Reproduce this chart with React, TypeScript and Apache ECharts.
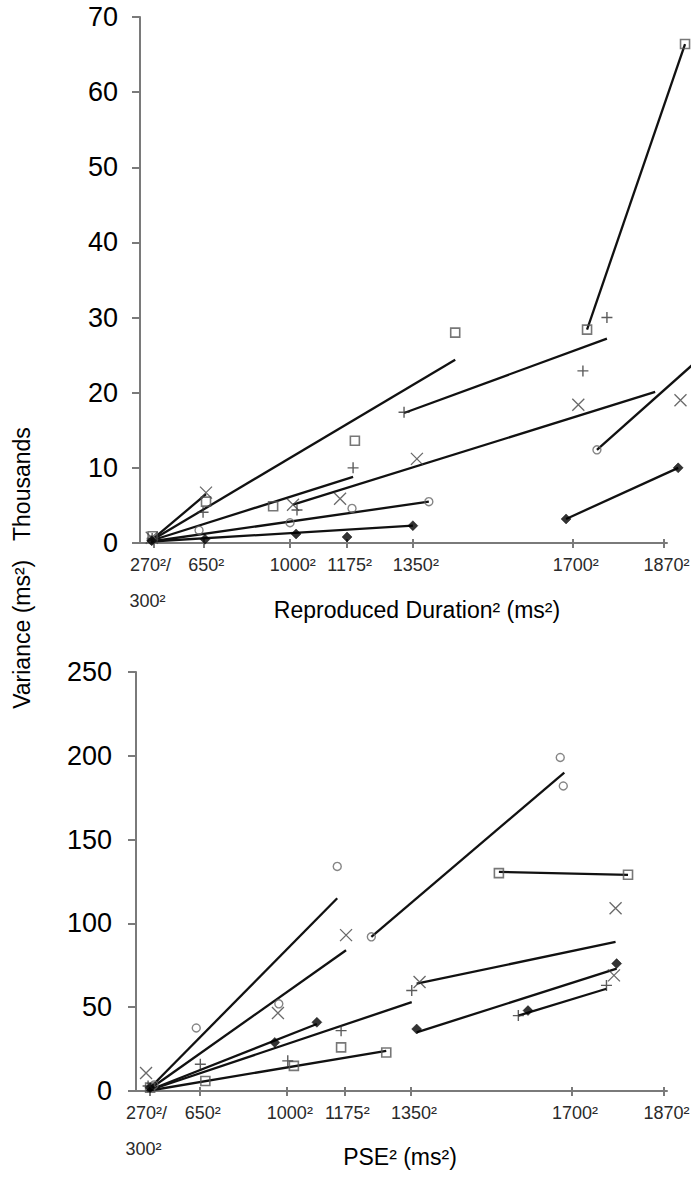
import React, { useEffect, useRef } from 'react';
import * as echarts from 'echarts';

// x tick positions: objective durations (ms), plotted on a duration² axis
const tickDurations = [300, 650, 1000, 1175, 1350, 1700, 1870];
const tickLabels = ['270²/\n300²', '650²', '1000²', '1175²', '1350²', '1700²', '1870²'];

// ---- top panel: [reproduced duration (ms), variance (thousand ms²)]
const topSquare = [[290, 0.9], [664, 5.5], [943, 4.9], [1198, 13.6], [1451, 28.0], [1728, 28.4], [1908, 66.4]];
const topPlus = [[285, 0.6], [649, 4.1], [1024, 4.4], [1193, 10.0], [1328, 17.4], [1720, 22.9], [1766, 30.0]];
const topCross = [[280, 0.7], [664, 6.7], [1011, 5.1], [1156, 5.9], [1360, 11.2], [1711, 18.4], [1900, 19.0]];
const topCircle = [[275, 0.4], [628, 1.7], [1001, 2.7], [1190, 4.6], [1389, 5.5], [1747, 12.4]];
const topDiamond = [[280, 0.3], [659, 0.5], [1021, 1.2], [1176, 0.8], [1350, 2.3], [1687, 3.2], [1896, 10.0]];
// regression lines: [[d1, v1], [d2, v2]]
const topFits = [
  [[270, 0.3], [1451, 24.4]],
  [[270, 0.3], [664, 6.5]],
  [[270, 0.3], [1193, 8.8]],
  [[1011, 5.1], [1855, 20.1]],
  [[270, 0.2], [1389, 5.5]],
  [[270, 0.2], [1350, 2.3]],
  [[1328, 17.3], [1766, 27.2]],
  [[1728, 28.4], [1908, 66.4]],
  [[1747, 12.4], [1934, 24.6]],
  [[1687, 3.2], [1896, 10.0]],
];

// ---- bottom panel: [PSE (ms), variance (ms²)]
const botSquare = [[306, 2], [678, 6], [1023, 15], [1166, 26], [1288, 23], [1551, 130], [1806, 129]];
const botPlus = [[283, 3], [653, 16], [1003, 18], [1166, 36], [1352, 60], [1592, 45], [1766, 63]];
const botCross = [[258, 10.7], [970, 46.5], [1180, 93], [1371, 65], [1783, 109], [1780, 69]];
const botCircle = [[346, 3.6], [632, 37.6], [973, 52], [1155, 134], [1249, 92], [1677, 199], [1683, 182]];
const botDiamond = [[306, 2], [959, 29], [1095, 41], [1364, 37], [1612, 48], [1785, 76]];
const botFits = [
  [[270, 0], [1155, 115]],
  [[270, 0], [1180, 84]],
  [[270, 0], [1352, 53]],
  [[270, 0], [1095, 40]],
  [[270, 0], [1288, 24]],
  [[1249, 92], [1685, 190]],
  [[1551, 130.7], [1806, 128.9]],
  [[1364, 64], [1783, 89]],
  [[1364, 35], [1785, 73]],
  [[1592, 45], [1766, 61]],
];

const FONT = '"Liberation Sans", Arial, sans-serif';
const AXIS = '#7a7a7a';

const sqPts = (arr: number[][]) => arr.map(([d, v]) => [d * d, v]);
const tickValues = tickDurations.map((d) => d * d);

const labelFor = (value: number) => {
  const i = tickValues.indexOf(value);
  if (i < 0) return '';
  if (i === 0) {
    const [a, b] = tickLabels[0].split('\n');
    return `{a|${a}}\n{b|${b}}`;
  }
  return `{n|${tickLabels[i]}}`;
};

// visible x axis extent and the wider (un-clipped) data extent, same scale
const AXIS_MAX = 3520000;
const AXIS_RIGHT = 667;
const DATA_RIGHT = 711;

const panels = [
  { left: 140, top: 17, height: 526, yMax: 70, yInterval: 10, yMargin: 22 },
  { left: 136, top: 672, height: 419, yMax: 250, yInterval: 50, yMargin: 24 },
];

const grids: any[] = [];
const xAxes: any[] = [];
const yAxes: any[] = [];

panels.forEach((p) => {
  const axisWidth = AXIS_RIGHT - p.left;
  const dataWidth = DATA_RIGHT - p.left;
  const dataMax = (AXIS_MAX * dataWidth) / axisWidth;
  const dataGrid = grids.length;
  grids.push({ left: p.left, top: p.top, width: dataWidth, height: p.height, outerBoundsMode: 'none', containLabel: false });
  const decoGrid = grids.length;
  grids.push({ left: p.left, top: p.top, width: axisWidth, height: p.height, outerBoundsMode: 'none', containLabel: false });

  // data x axis (hidden)
  xAxes.push({ gridIndex: dataGrid, type: 'value', min: 0, max: dataMax, show: false });
  // visible x axis
  xAxes.push({
    gridIndex: decoGrid,
    type: 'value',
    position: 'bottom',
    min: 0,
    max: AXIS_MAX,
    splitLine: { show: false },
    axisLine: { show: true, lineStyle: { color: AXIS, width: 2 } },
    axisTick: { show: true, customValues: tickValues, length: 5, lineStyle: { color: AXIS, width: 2 } },
    axisLabel: {
      show: true,
      customValues: tickValues,
      showMinLabel: true,
      showMaxLabel: true,
      hideOverlap: false,
      margin: 4,
      formatter: labelFor,
      rich: {
        n: { fontFamily: FONT, fontSize: 18, color: '#2a2a2a', lineHeight: 36, padding: [0, 0, 0, 6] },
        a: { fontFamily: FONT, fontSize: 18, color: '#2a2a2a', lineHeight: 36, padding: [0, 6, 0, 0] },
        b: { fontFamily: FONT, fontSize: 18, color: '#2a2a2a', lineHeight: 36, padding: [0, 12, 0, 0] },
      },
    },
  });
  // inside half of the crossing ticks
  xAxes.push({
    gridIndex: decoGrid,
    type: 'value',
    position: 'bottom',
    min: 0,
    max: AXIS_MAX,
    splitLine: { show: false },
    axisLine: { show: false },
    axisTick: { show: true, inside: true, customValues: tickValues, length: 4, lineStyle: { color: AXIS, width: 2 } },
    axisLabel: { show: false },
  });

  yAxes.push({
    gridIndex: dataGrid,
    type: 'value',
    min: 0,
    max: p.yMax,
    interval: p.yInterval,
    splitLine: { show: false },
    axisLine: { show: true, lineStyle: { color: AXIS, width: 2 } },
    axisTick: { show: true, length: 8, lineStyle: { color: AXIS, width: 2 } },
    axisLabel: { fontFamily: FONT, fontSize: 27, color: '#000', margin: p.yMargin },
  });
  yAxes.push({ gridIndex: decoGrid, type: 'value', min: 0, max: p.yMax, show: false });
});

const PLUS = 'path://M5,0L5,10M0,5L10,5';
const CROSS = 'path://M0,0L10,10M10,0L0,10';

const markerDefs = [
  { key: 'square', symbol: 'rect', size: 9, style: { color: 'rgba(255,255,255,0)', borderColor: '#555', borderWidth: 1.6 } },
  { key: 'plus', symbol: PLUS, size: 11, style: { color: 'rgba(255,255,255,0)', borderColor: '#333', borderWidth: 1.4 } },
  { key: 'cross', symbol: CROSS, size: 12, style: { color: 'rgba(255,255,255,0)', borderColor: '#444', borderWidth: 1.3 } },
  { key: 'circle', symbol: 'circle', size: 8, style: { color: 'rgba(255,255,255,0)', borderColor: '#666', borderWidth: 1.4 } },
  { key: 'diamond', symbol: 'diamond', size: 10, style: { color: '#000', borderColor: '#000', borderWidth: 0.5 } },
];

const buildPanel = (
  sets: number[][][],
  fits: number[][][],
  xAxisIndex: number,
  yAxisIndex: number,
  prefix: string
) => {
  const lines = fits.map((seg, i) => ({
    name: `${prefix}-fit-${i}`,
    type: 'line',
    xAxisIndex,
    yAxisIndex,
    data: sqPts(seg),
    symbol: 'none',
    clip: false,
    lineStyle: { color: '#111', width: 2.3 },
    z: 2,
  }));
  const pts = sets.map((data, i) => ({
    name: `${prefix}-${markerDefs[i].key}`,
    type: 'scatter',
    xAxisIndex,
    yAxisIndex,
    data: sqPts(data),
    symbol: markerDefs[i].symbol,
    symbolSize: markerDefs[i].size,
    itemStyle: markerDefs[i].style,
    clip: false,
    z: 3,
  }));
  return [...lines, ...pts];
};

const option = {
  animation: false,
  backgroundColor: '#fff',
  grid: grids,
  xAxis: xAxes,
  yAxis: yAxes,
  series: [
    ...buildPanel([topSquare, topPlus, topCross, topCircle, topDiamond], topFits, 0, 0, 'top'),
    ...buildPanel([botSquare, botPlus, botCross, botCircle, botDiamond], botFits, 3, 2, 'bot'),
  ],
  graphic: [
    {
      type: 'text',
      x: 417,
      y: 610,
      style: { text: 'Reproduced Duration² (ms²)', fontFamily: FONT, fontSize: 23, fill: '#000', align: 'center', verticalAlign: 'middle' },
    },
    {
      type: 'text',
      x: 400,
      y: 1157,
      style: { text: 'PSE² (ms²)', fontFamily: FONT, fontSize: 23, fill: '#000', align: 'center', verticalAlign: 'middle' },
    },
    {
      type: 'text',
      x: 22,
      y: 568,
      rotation: Math.PI / 2,
      style: { text: 'Variance (ms²)   Thousands', fontFamily: FONT, fontSize: 23, fill: '#000', align: 'center', verticalAlign: 'middle' },
    },
  ],
};

export default function App() {
  const ref = useRef<HTMLDivElement>(null);
  useEffect(() => {
    const chart = echarts.init(ref.current as HTMLDivElement, null, { renderer: 'svg' });
    chart.setOption(option as any);
    return () => chart.dispose();
  }, []);
  return (
    <div
      ref={ref}
      style={{ position: 'absolute', left: 0, top: 0, width: 691, height: 1178, background: '#fff' }}
    />
  );
}
